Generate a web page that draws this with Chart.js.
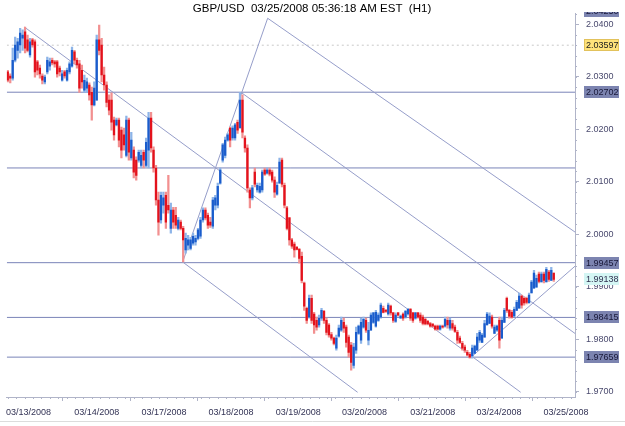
<!DOCTYPE html>
<html>
<head>
<meta charset="utf-8">
<script src="https://cdn.jsdelivr.net/npm/chart.js@4.4.1/dist/chart.umd.min.js"></script>
<style>
  html, body { margin: 0; padding: 0; background: #fff; }
  #wrap { width: 625px; height: 426px; }
</style>
</head>
<body>
<div id="wrap"><canvas id="chart" width="625" height="426"></canvas></div>
<script>
const titleText = 'GBP/USD  03/25/2008 05:36:18 AM EST  (H1)';

// hourly candles, one per bar index
const opens = [
  2.0309, 2.0301, 2.0297, 2.0331, 2.0350, 2.0360, 2.0373, 2.0385, 2.0370, 2.0341,
  2.0370, 2.0366, 2.0328, 2.0316, 2.0301, 2.0290, 2.0309, 2.0320, 2.0331, 2.0328,
  2.0328, 2.0316, 2.0293, 2.0309, 2.0293, 2.0309, 2.0320, 2.0347, 2.0331, 2.0324,
  2.0312, 2.0274, 2.0278, 2.0284, 2.0270, 2.0246, 2.0255, 2.0370, 2.0360, 2.0303,
  2.0284, 2.0255, 2.0255, 2.0217, 2.0208, 2.0217, 2.0198, 2.0189, 2.0150, 2.0217,
  2.0145, 2.0160, 2.0141, 2.0141, 2.0131, 2.0156, 2.0131, 2.0160, 2.0221, 2.0160,
  2.0126, 2.0065, 2.0027, 2.0055, 2.0074, 2.0055, 2.0011, 2.0046, 2.0036, 2.0011,
  2.0023, 2.0011, 1.9970, 1.9979, 1.9973, 1.9983, 1.9985, 1.9992, 1.9996, 2.0027,
  2.0046, 2.0036, 2.0023, 2.0015, 2.0055, 2.0055, 2.0097, 2.0141, 2.0150, 2.0179,
  2.0202, 2.0183, 2.0183, 2.0213, 2.0202, 2.0255, 2.0183, 2.0164, 2.0084, 2.0069,
  2.0118, 2.0084, 2.0080, 2.0084, 2.0122, 2.0116, 2.0122, 2.0118, 2.0103, 2.0076,
  2.0097, 2.0141, 2.0093, 2.0050, 2.0031, 1.9989, 1.9981, 1.9975, 1.9971, 1.9958,
  1.9907, 1.9859, 1.9842, 1.9878, 1.9848, 1.9836, 1.9827, 1.9840, 1.9853, 1.9836,
  1.9827, 1.9809, 1.9802, 1.9783, 1.9806, 1.9817, 1.9832, 1.9823, 1.9804, 1.9789,
  1.9750, 1.9779, 1.9811, 1.9798, 1.9823, 1.9836, 1.9798, 1.9817, 1.9832, 1.9825,
  1.9836, 1.9842, 1.9859, 1.9855, 1.9848, 1.9863, 1.9850, 1.9834, 1.9850, 1.9840,
  1.9848, 1.9842, 1.9848, 1.9857, 1.9850, 1.9840, 1.9850, 1.9846, 1.9842, 1.9838,
  1.9834, 1.9830, 1.9829, 1.9825, 1.9825, 1.9819, 1.9825, 1.9825, 1.9836, 1.9821,
  1.9830, 1.9823, 1.9813, 1.9802, 1.9792, 1.9785, 1.9775, 1.9771, 1.9768, 1.9773,
  1.9779, 1.9798, 1.9794, 1.9804, 1.9827, 1.9830, 1.9842, 1.9811, 1.9817, 1.9836,
  1.9802, 1.9832, 1.9878, 1.9855, 1.9851, 1.9844, 1.9855, 1.9859, 1.9882, 1.9878,
  1.9878, 1.9869, 1.9888, 1.9897, 1.9899, 1.9924, 1.9909, 1.9924, 1.9909, 1.9928,
  1.9912, 1.9926
];
const highs = [
  2.0312, 2.0305, 2.0354, 2.0375, 2.0373, 2.0392, 2.0389, 2.0394, 2.0379, 2.0373,
  2.0373, 2.0370, 2.0331, 2.0322, 2.0305, 2.0303, 2.0337, 2.0335, 2.0335, 2.0331,
  2.0331, 2.0320, 2.0312, 2.0312, 2.0316, 2.0328, 2.0356, 2.0350, 2.0335, 2.0331,
  2.0322, 2.0303, 2.0297, 2.0288, 2.0280, 2.0290, 2.0379, 2.0398, 2.0373, 2.0318,
  2.0290, 2.0265, 2.0269, 2.0223, 2.0221, 2.0221, 2.0204, 2.0202, 2.0225, 2.0221,
  2.0194, 2.0166, 2.0147, 2.0160, 2.0160, 2.0160, 2.0183, 2.0232, 2.0232, 2.0166,
  2.0131, 2.0080, 2.0080, 2.0080, 2.0080, 2.0112, 2.0059, 2.0051, 2.0051, 2.0032,
  2.0027, 2.0015, 2.0002, 1.9998, 1.9994, 2.0002, 1.9998, 2.0011, 2.0032, 2.0050,
  2.0050, 2.0040, 2.0032, 2.0070, 2.0074, 2.0097, 2.0126, 2.0173, 2.0185, 2.0192,
  2.0204, 2.0206, 2.0211, 2.0217, 2.0270, 2.0265, 2.0187, 2.0170, 2.0088, 2.0093,
  2.0126, 2.0097, 2.0097, 2.0122, 2.0126, 2.0126, 2.0126, 2.0122, 2.0109, 2.0099,
  2.0145, 2.0145, 2.0097, 2.0053, 2.0032, 1.9992, 1.9985, 1.9977, 1.9973, 1.9966,
  1.9909, 1.9861, 1.9884, 1.9884, 1.9851, 1.9842, 1.9846, 1.9859, 1.9855, 1.9840,
  1.9830, 1.9813, 1.9804, 1.9808, 1.9827, 1.9842, 1.9840, 1.9827, 1.9808, 1.9794,
  1.9792, 1.9823, 1.9827, 1.9840, 1.9842, 1.9840, 1.9832, 1.9850, 1.9851, 1.9855,
  1.9850, 1.9869, 1.9863, 1.9857, 1.9869, 1.9865, 1.9851, 1.9850, 1.9851, 1.9846,
  1.9850, 1.9855, 1.9859, 1.9859, 1.9851, 1.9851, 1.9851, 1.9850, 1.9846, 1.9840,
  1.9836, 1.9832, 1.9830, 1.9827, 1.9827, 1.9827, 1.9827, 1.9842, 1.9842, 1.9840,
  1.9836, 1.9827, 1.9817, 1.9806, 1.9796, 1.9789, 1.9779, 1.9775, 1.9789, 1.9789,
  1.9811, 1.9817, 1.9811, 1.9836, 1.9851, 1.9850, 1.9846, 1.9827, 1.9827, 1.9842,
  1.9842, 1.9859, 1.9880, 1.9857, 1.9855, 1.9861, 1.9874, 1.9888, 1.9884, 1.9880,
  1.9880, 1.9888, 1.9912, 1.9931, 1.9922, 1.9928, 1.9928, 1.9928, 1.9937, 1.9931,
  1.9937, 1.9926
];
const lows = [
  2.0290, 2.0288, 2.0293, 2.0328, 2.0335, 2.0345, 2.0350, 2.0345, 2.0347, 2.0337,
  2.0356, 2.0299, 2.0303, 2.0297, 2.0286, 2.0286, 2.0305, 2.0312, 2.0322, 2.0318,
  2.0299, 2.0301, 2.0291, 2.0297, 2.0291, 2.0305, 2.0318, 2.0324, 2.0316, 2.0270,
  2.0278, 2.0270, 2.0270, 2.0255, 2.0217, 2.0244, 2.0255, 2.0341, 2.0290, 2.0274,
  2.0242, 2.0227, 2.0198, 2.0179, 2.0206, 2.0166, 2.0145, 2.0160, 2.0147, 2.0141,
  2.0141, 2.0107, 2.0103, 2.0137, 2.0126, 2.0126, 2.0128, 2.0126, 2.0156, 2.0118,
  2.0055, 1.9998, 2.0021, 2.0040, 2.0011, 2.0040, 2.0002, 2.0011, 2.0011, 2.0008,
  2.0008, 1.9947, 1.9964, 1.9970, 1.9970, 1.9979, 1.9979, 1.9989, 1.9992, 2.0023,
  2.0027, 2.0011, 2.0013, 2.0011, 2.0046, 2.0050, 2.0095, 2.0137, 2.0145, 2.0177,
  2.0166, 2.0179, 2.0179, 2.0192, 2.0202, 2.0183, 2.0156, 2.0080, 2.0050, 2.0065,
  2.0090, 2.0080, 2.0078, 2.0080, 2.0112, 2.0114, 2.0111, 2.0099, 2.0070, 2.0074,
  2.0097, 2.0090, 2.0050, 2.0008, 1.9979, 1.9973, 1.9956, 1.9970, 1.9945, 1.9907,
  1.9855, 1.9830, 1.9840, 1.9830, 1.9811, 1.9817, 1.9823, 1.9836, 1.9830, 1.9808,
  1.9804, 1.9798, 1.9789, 1.9779, 1.9804, 1.9815, 1.9813, 1.9785, 1.9766, 1.9741,
  1.9745, 1.9773, 1.9809, 1.9792, 1.9821, 1.9813, 1.9789, 1.9817, 1.9830, 1.9823,
  1.9834, 1.9840, 1.9850, 1.9851, 1.9846, 1.9846, 1.9832, 1.9832, 1.9844, 1.9840,
  1.9836, 1.9840, 1.9846, 1.9836, 1.9832, 1.9838, 1.9840, 1.9832, 1.9827, 1.9827,
  1.9827, 1.9823, 1.9823, 1.9817, 1.9817, 1.9817, 1.9821, 1.9823, 1.9821, 1.9817,
  1.9817, 1.9813, 1.9792, 1.9792, 1.9779, 1.9775, 1.9768, 1.9764, 1.9764, 1.9773,
  1.9779, 1.9794, 1.9794, 1.9804, 1.9827, 1.9830, 1.9821, 1.9811, 1.9815, 1.9783,
  1.9802, 1.9832, 1.9851, 1.9840, 1.9840, 1.9844, 1.9855, 1.9859, 1.9859, 1.9865,
  1.9867, 1.9869, 1.9888, 1.9897, 1.9899, 1.9907, 1.9909, 1.9907, 1.9909, 1.9910,
  1.9912, 1.9910
];
const closes = [
  2.0293, 2.0297, 2.0331, 2.0360, 2.0366, 2.0383, 2.0379, 2.0354, 2.0350, 2.0366,
  2.0360, 2.0309, 2.0312, 2.0305, 2.0293, 2.0299, 2.0331, 2.0328, 2.0326, 2.0324,
  2.0305, 2.0309, 2.0305, 2.0301, 2.0312, 2.0324, 2.0350, 2.0331, 2.0322, 2.0278,
  2.0290, 2.0293, 2.0290, 2.0265, 2.0246, 2.0278, 2.0370, 2.0350, 2.0303, 2.0284,
  2.0251, 2.0236, 2.0213, 2.0189, 2.0217, 2.0179, 2.0160, 2.0170, 2.0217, 2.0156,
  2.0179, 2.0118, 2.0112, 2.0156, 2.0150, 2.0141, 2.0175, 2.0221, 2.0164, 2.0126,
  2.0065, 2.0023, 2.0074, 2.0069, 2.0023, 2.0046, 2.0046, 2.0023, 2.0017, 2.0027,
  2.0011, 1.9989, 1.9992, 1.9989, 1.9989, 1.9996, 1.9992, 2.0008, 2.0027, 2.0046,
  2.0031, 2.0017, 2.0017, 2.0065, 2.0069, 2.0091, 2.0122, 2.0170, 2.0179, 2.0189,
  2.0179, 2.0202, 2.0208, 2.0198, 2.0255, 2.0194, 2.0164, 2.0088, 2.0069, 2.0088,
  2.0095, 2.0093, 2.0091, 2.0118, 2.0114, 2.0122, 2.0114, 2.0103, 2.0080, 2.0093,
  2.0137, 2.0095, 2.0055, 2.0011, 1.9989, 1.9977, 1.9970, 1.9971, 1.9954, 1.9912,
  1.9863, 1.9836, 1.9878, 1.9836, 1.9827, 1.9823, 1.9840, 1.9855, 1.9836, 1.9813,
  1.9808, 1.9802, 1.9792, 1.9802, 1.9821, 1.9836, 1.9821, 1.9794, 1.9775, 1.9756,
  1.9785, 1.9813, 1.9825, 1.9832, 1.9838, 1.9817, 1.9817, 1.9846, 1.9850, 1.9851,
  1.9846, 1.9865, 1.9851, 1.9853, 1.9865, 1.9850, 1.9836, 1.9846, 1.9846, 1.9844,
  1.9840, 1.9853, 1.9857, 1.9840, 1.9836, 1.9850, 1.9842, 1.9836, 1.9830, 1.9829,
  1.9829, 1.9825, 1.9825, 1.9819, 1.9819, 1.9825, 1.9823, 1.9838, 1.9827, 1.9836,
  1.9821, 1.9815, 1.9798, 1.9794, 1.9783, 1.9779, 1.9770, 1.9766, 1.9783, 1.9787,
  1.9804, 1.9813, 1.9808, 1.9830, 1.9848, 1.9844, 1.9825, 1.9823, 1.9825, 1.9798,
  1.9836, 1.9855, 1.9855, 1.9844, 1.9842, 1.9857, 1.9870, 1.9882, 1.9865, 1.9869,
  1.9870, 1.9884, 1.9909, 1.9926, 1.9916, 1.9910, 1.9924, 1.9912, 1.9933, 1.9914,
  1.9931, 1.9914
];

// axis labels
const dateLabels = ['03/13/2008', '03/14/2008', '03/17/2008', '03/18/2008', '03/19/2008',
                    '03/20/2008', '03/21/2008', '03/24/2008', '03/25/2008'];
const datePositions = [8.4, 36, 63.2, 90.4, 117.6, 144.4, 172, 198.8, 226];
const priceTicks = [1.97, 1.98, 1.99, 2.00, 2.01, 2.02, 2.03, 2.04];

// drawn levels
const levelPrices = [2.02702, 2.0126, 1.99457, 1.98415, 1.97659];
const boxedLevels = [2.04250, 2.02702, 1.99457, 1.98415, 1.97659];
const askPrice = 2.03597;
const bidPrice = 1.99138;

// pitchfork / channel lines: [[bar, price], [bar, price]]
const trendLines = [
  [[6.8, 2.0394], [207.6, 1.9699]],
  [[70.8, 1.9947], [105.2, 2.0411]],
  [[105.2, 2.0411], [229.6, 2.0004]],
  [[94.4, 2.0270], [229.6, 1.9811]],
  [[70.8, 1.9947], [141.6, 1.9699]],
  [[187.6, 1.9766], [229.6, 1.9939]]
];

const xMin = -0.4, xMax = 229.6;
const yMin = 1.9690, yMax = 2.0421;

const FONT = 'Liberation Sans, Arial, sans-serif';
const BLUE = '#1a5ccc', LBLUE = '#8db4e8';
const RED = '#e3121c', LRED = '#f29090';
const LEVEL = 'rgb(122,132,184)', TREND = 'rgb(150,158,202)';

const bars = opens.map((o, i) => i);
const isUp = bars.map(i => closes[i] >= opens[i]);

const datasets = [
  {
    type: 'bar', label: 'body',
    data: bars.map(i => ({ x: i, y: [opens[i], closes[i]] })),
    backgroundColor: isUp.map(u => u ? BLUE : RED),
    barThickness: 1.6, minBarLength: 1, grouped: false, borderWidth: 0, order: 0
  },
  {
    type: 'bar', label: 'wick',
    data: bars.map(i => ({ x: i, y: [lows[i], highs[i]] })),
    backgroundColor: isUp.map(u => u ? LBLUE : LRED),
    barThickness: 1.6, grouped: false, borderWidth: 0, order: 1
  }
];

levelPrices.forEach(p => {
  datasets.push({
    type: 'line', data: [{ x: xMin, y: p }, { x: xMax, y: p }],
    borderColor: LEVEL, borderWidth: 1, pointRadius: 0, order: 3
  });
});
datasets.push({
  type: 'line', data: [{ x: xMin, y: askPrice }, { x: xMax, y: askPrice }],
  borderColor: '#c8c8c8', borderWidth: 1, borderDash: [2, 3], pointRadius: 0, order: 3
});
trendLines.forEach(seg => {
  datasets.push({
    type: 'line', data: seg.map(pt => ({ x: pt[0], y: pt[1] })),
    borderColor: TREND, borderWidth: 1, pointRadius: 0, order: 2
  });
});

function priceBox(ctx, y, text, bg, fg, border) {
  ctx.fillStyle = bg;
  ctx.fillRect(584, y - 6, 35, 12);
  if (border) {
    ctx.strokeStyle = border;
    ctx.strokeRect(584.5, y - 5.5, 34, 11);
  }
  ctx.fillStyle = fg;
  ctx.font = '9px ' + FONT;
  ctx.textBaseline = 'middle';
  ctx.textAlign = 'left';
  ctx.fillText(text, 586, y + 0.5);
}

const decor = {
  id: 'decor',
  beforeDraw(chart) {
    const ctx = chart.ctx;
    ctx.save();
    ctx.fillStyle = '#fff';
    ctx.fillRect(0, 0, chart.width, chart.height);
    ctx.restore();
  },
  afterDraw(chart) {
    const ctx = chart.ctx;
    const xs = chart.scales.x, ys = chart.scales.y;
    const area = chart.chartArea;
    ctx.save();

    // title
    ctx.fillStyle = '#000';
    ctx.font = '11.5px ' + FONT;
    ctx.textAlign = 'center';
    ctx.textBaseline = 'middle';
    ctx.fillText(titleText, 312, 9);

    // minor ticks on price axis
    ctx.strokeStyle = '#b0b4c8';
    ctx.beginPath();
    for (let p = 1.970; p <= 2.042; p += 0.002) {
      const y = Math.round(ys.getPixelForValue(p)) + 0.5;
      ctx.moveTo(area.right, y);
      ctx.lineTo(area.right + 2, y);
    }
    // minor ticks on time axis
    for (let b = 0; b <= xMax; b += 3.4) {
      const x = Math.round(xs.getPixelForValue(b)) + 0.5;
      ctx.moveTo(x, area.bottom);
      ctx.lineTo(x, area.bottom + 2);
    }
    ctx.stroke();

    // price boxes
    ctx.beginPath();
    ctx.rect(576, 12, 50, 400);
    ctx.clip();
    boxedLevels.forEach(p => {
      priceBox(ctx, Math.round(ys.getPixelForValue(p)), p.toFixed(5), '#7c84b0', '#181838');
    });
    priceBox(ctx, Math.round(ys.getPixelForValue(askPrice)), askPrice.toFixed(5), '#ffe27a', '#202020', '#e2c25c');
    priceBox(ctx, Math.round(ys.getPixelForValue(bidPrice)), bidPrice.toFixed(5), '#d4f6f4', '#303050');
    ctx.restore();

    // bottom scrollbar edge
    ctx.save();
    ctx.strokeStyle = '#dcdcdc';
    ctx.beginPath();
    ctx.moveTo(0, 421.5);
    ctx.lineTo(625, 421.5);
    ctx.stroke();
    ctx.restore();
  }
};

new Chart(document.getElementById('chart'), {
  type: 'bar',
  data: { datasets },
  options: {
    responsive: false,
    animation: false,
    devicePixelRatio: 1,
    layout: { padding: { top: 13, left: 0, right: 0, bottom: 0 } },
    plugins: { legend: { display: false }, tooltip: { enabled: false } },
    scales: {
      x: {
        type: 'linear', min: xMin, max: xMax, offset: false,
        afterBuildTicks: s => { s.ticks = datePositions.map(v => ({ value: v })); },
        afterFit: s => { s.height = 29; },
        ticks: {
          callback: (v, i) => dateLabels[i],
          autoSkip: false, maxRotation: 0, padding: 6,
          color: '#333355', font: { family: FONT, size: 9 }
        },
        grid: { drawOnChartArea: false, drawTicks: true, tickLength: 4, color: '#b0b4c8' },
        border: { display: true, color: '#b0b4c8' }
      },
      y: {
        type: 'linear', position: 'right', min: yMin, max: yMax,
        afterBuildTicks: s => { s.ticks = priceTicks.map(v => ({ value: v })); },
        afterFit: s => { s.width = 50; },
        ticks: {
          callback: v => v.toFixed(4), padding: 7,
          color: '#4a4a6e', font: { family: FONT, size: 9 }
        },
        grid: { drawOnChartArea: false, drawTicks: true, tickLength: 4, color: '#b0b4c8' },
        border: { display: true, color: '#b0b4c8' }
      }
    }
  },
  plugins: [decor]
});
</script>
</body>
</html>
